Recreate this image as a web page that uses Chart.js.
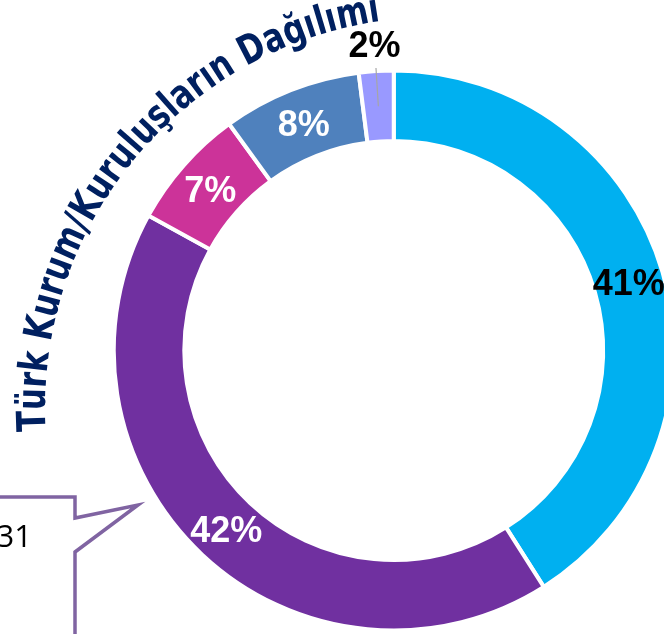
<!DOCTYPE html>
<html><head><meta charset="utf-8">
<script src="https://cdn.jsdelivr.net/npm/chart.js@4.4.0/dist/chart.umd.min.js"></script>
<style>
html,body{margin:0;padding:0;background:#fff;overflow:hidden;width:664px;height:634px}
#wrap{position:absolute;left:0;top:0;width:700px;height:634px}
</style></head><body>
<div id="wrap"><canvas id="c"></canvas></div>
<script>
const categories = ['Grup 1', 'Grup 2', 'Grup 3', 'Grup 4', 'Grup 5'];
const values = [41, 42, 7, 8, 2];
const valueLabels = ['41%', '42%', '7%', '8%', '2%'];
const titleText = 'Türk Kurum/Kuruluşların Dağılımı';
const calloutText = '31';

const sliceColors = ['#00B0F0', '#7030A0', '#CC3399', '#4F81BD', '#9999FF'];
const labelColors = ['#000000', '#FFFFFF', '#FFFFFF', '#FFFFFF', '#000000'];
const labelOutside = [false, false, false, false, true];

const sliceLabels = {
  id: 'sliceLabels',
  afterDatasetsDraw(chart) {
    const ctx = chart.ctx;
    const meta = chart.getDatasetMeta(0);
    ctx.save();
    const fs = 36;
    ctx.font = 'bold ' + fs + 'px "Liberation Sans", Arial, sans-serif';
    ctx.textAlign = 'center';
    ctx.textBaseline = 'alphabetic';
    meta.data.forEach((arc, i) => {
      const p = arc.getProps(['x', 'y', 'startAngle', 'endAngle', 'innerRadius', 'outerRadius'], true);
      const mid = (p.startAngle + p.endAngle) / 2;
      const rm = (p.innerRadius + p.outerRadius) / 2;
      const c = Math.cos(mid), s = Math.sin(mid);
      let r = rm;
      if (labelOutside[i]) {
        ctx.strokeStyle = '#A6A6A6';
        ctx.lineWidth = 1.2;
        ctx.beginPath();
        ctx.moveTo(p.x + c * rm, p.y + s * rm);
        ctx.lineTo(p.x + c * (p.outerRadius + 3), p.y + s * (p.outerRadius + 3));
        ctx.stroke();
        r = p.outerRadius + 27;
      }
      ctx.fillStyle = labelColors[i];
      ctx.fillText(valueLabels[i], p.x + c * r, p.y + s * r + fs * 0.716 / 2);
    });
    ctx.restore();
  }
};

const extras = {
  id: 'extras',
  afterDraw(chart) {
    const ctx = chart.ctx;
    ctx.save();
    // curved title
    const cx = 436, cy = 408, R = 391;
    const start = 176.6 * Math.PI / 180;
    const arcLen = 582;
    ctx.font = 'bold 40px "DejaVu Sans", sans-serif';
    ctx.fillStyle = '#002060';
    ctx.textAlign = 'center';
    ctx.textBaseline = 'alphabetic';
    const chars = [...titleText];
    const widths = chars.map(ch => ctx.measureText(ch).width);
    const total = widths.reduce((a, b) => a + b, 0);
    const sx = arcLen / total;
    let a = start;
    chars.forEach((ch, i) => {
      const w = widths[i] * sx;
      const ang = a + (w / 2) / R;
      ctx.save();
      ctx.translate(cx + R * Math.cos(ang), cy + R * Math.sin(ang));
      ctx.rotate(ang + Math.PI / 2);
      ctx.scale(sx, 1);
      ctx.fillText(ch, 0, 0);
      ctx.restore();
      a += w / R;
    });
    // callout box
    ctx.beginPath();
    ctx.moveTo(-10, 497);
    ctx.lineTo(75, 497);
    ctx.lineTo(75, 518);
    ctx.lineTo(138, 505);
    ctx.lineTo(75, 552);
    ctx.lineTo(75, 645);
    ctx.lineTo(-10, 645);
    ctx.closePath();
    ctx.fillStyle = '#FFFFFF';
    ctx.fill();
    ctx.strokeStyle = '#8064A2';
    ctx.lineWidth = 3.5;
    ctx.lineJoin = 'miter';
    ctx.stroke();
    ctx.fillStyle = '#000000';
    ctx.font = '31px "Open Sans", "Liberation Sans", sans-serif';
    ctx.textAlign = 'right';
    ctx.fillText(calloutText, 32, 547);
    ctx.restore();
  }
};

new Chart(document.getElementById('c'), {
  type: 'doughnut',
  data: {
    labels: categories,
    datasets: [{
      data: values,
      backgroundColor: sliceColors,
      borderColor: '#FFFFFF',
      borderWidth: 4,
      hoverBorderWidth: 4,
      hoverOffset: 0,
      offset: 0
    }]
  },
  options: {
    responsive: true,
    maintainAspectRatio: false,
    animation: false,
    cutout: '74.8%',
    rotation: 0,
    layout: { padding: { left: 111.5, right: 24, top: 68.5, bottom: 1.5 } },
    plugins: { legend: { display: false }, tooltip: { enabled: false }, title: { display: false } },
    events: []
  },
  plugins: [sliceLabels, extras]
});
</script>
</body></html>
